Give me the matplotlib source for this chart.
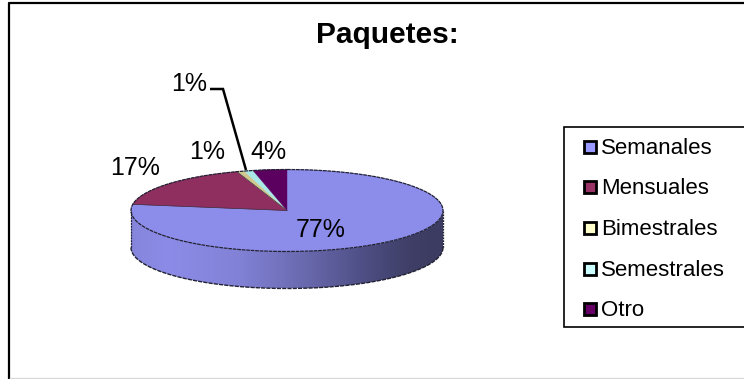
import numpy as np
import matplotlib
matplotlib.use("Agg")
import matplotlib.pyplot as plt
from matplotlib.colors import LinearSegmentedColormap
from matplotlib.patches import Polygon, Rectangle

plt.rcParams["font.family"] = ["Liberation Sans", "DejaVu Sans"]

# Data
categories = ["Semanales", "Mensuales", "Bimestrales", "Semestrales", "Otro"]
values = [77.4, 17.4, 0.8, 0.9, 3.5]
legend_colors = ["#9999FF", "#993366", "#FFFFCC", "#CCFFFF", "#660066"]
top_colors = ["#8C8CEA", "#8F2F60", "#CFC88F", "#A8E8E8", "#5C0060"]

# Pie geometry, in pixels
cx, cy = 287, 210.5
rx, ry = 156, 41
depth = 37

fig = plt.figure(figsize=(7.44, 3.79), dpi=100)
ax = fig.add_axes([0, 0, 1, 1])
ax.set_xlim(0, 744)
ax.set_ylim(379, 0)
ax.axis("off")


def rim(frac0, frac1, drop=0, n=200):
    # fractions run clockwise from 12 o'clock
    t = np.linspace(frac0, frac1, n) * 2 * np.pi
    return np.column_stack([cx + rx * np.sin(t), cy + drop - ry * np.cos(t)])


# Chart frame
ax.plot([9, 9, 744], [379, 3, 3], color="black", lw=1.6, solid_capstyle="butt")
ax.plot([10, 744], [378, 378], color="#D9D9D9", lw=1.0)

# Side wall of the pie, shaded left to right
front = rim(0.25, 0.75)
side = np.vstack([front, rim(0.25, 0.75, drop=depth)[::-1]])
side_cmap = LinearSegmentedColormap.from_list(
    "side",
    [(0.0, "#8585DC"), (0.12, "#8C8CE8"), (0.35, "#8181D6"), (0.55, "#6A6AB0"),
     (0.75, "#4E4E84"), (0.9, "#3E3E66"), (1.0, "#3C3C62")],
)
grad = ax.imshow(
    np.linspace(0, 1, 256).reshape(1, -1),
    cmap=side_cmap,
    extent=[cx - rx, cx + rx, cy + ry + depth, cy],
    aspect="auto",
    zorder=2,
)
ax.set_xlim(0, 744)
ax.set_ylim(379, 0)
side_patch = Polygon(side, closed=True, transform=ax.transData, facecolor="none", edgecolor="none")
ax.add_patch(side_patch)
grad.set_clip_path(side_patch)

# Top face slices
start = 0.0
total = sum(values)
for val, col in zip(values, top_colors):
    stop = start + val / total
    pts = np.vstack([[cx, cy], rim(start, stop, n=max(4, int(val * 6)))])
    ax.add_patch(Polygon(pts, closed=True, facecolor=col, edgecolor=col, lw=0.3, zorder=3))
    start = stop

# Slice boundaries on the left side
start = values[0] / total
for val in [0] + values[1:2]:
    start += val / total
    p = rim(start, start, n=1)[0]
    ax.plot([cx, p[0]], [cy, p[1]], color="#3A2A40", lw=0.5, zorder=4)

# Outlines, broken up the way a low-res raster edge looks
edge_style = (0, (3, 0.6))
outer = rim(0, 1, n=400)
ax.plot(outer[:, 0], outer[:, 1], color="#222233", lw=0.9, ls=edge_style, zorder=5)
lower = rim(0.25, 0.75, drop=depth)
ax.plot(lower[:, 0], lower[:, 1], color="#222233", lw=1.0, ls=(0, (3, 0.8)), zorder=5)
for sx in (cx - rx, cx + rx):
    ax.plot([sx, sx], [cy, cy + depth], color="#222233", lw=0.9, ls=(0, (1.5, 0.8)), zorder=5)

# Leader line for the small slice
ax.plot([210, 223, 246], [89, 89, 170], color="black", lw=1.8, zorder=6,
        solid_joinstyle="miter", solid_capstyle="butt")

# Value labels
label_pos = [(321, 230), (135, 168), (207, 152), (189, 84), (268, 152)]
for val, (lx, ly) in zip(values, label_pos):
    ax.text(lx, ly, f"{val:.0f}%", fontsize=18, ha="center", va="center",
            color="black", zorder=7)

ax.text(387, 35, "Paquetes:", fontsize=21.5, fontweight="bold", ha="center",
        va="center", color="black")

# Legend
ax.plot([744, 564, 564, 744], [127, 127, 327, 327], color="black", lw=1.2,
        solid_joinstyle="miter")
legend_y = [147, 187, 228, 269, 309]
for name, col, ly in zip(categories, legend_colors, legend_y):
    ax.add_patch(Rectangle((584, ly - 6), 12, 12, facecolor=col, edgecolor="black", lw=2.0))
    ax.text(601, ly + 1.5, name, fontsize=16, ha="left", va="center", color="black")

fig.savefig("out.png", dpi=100)
